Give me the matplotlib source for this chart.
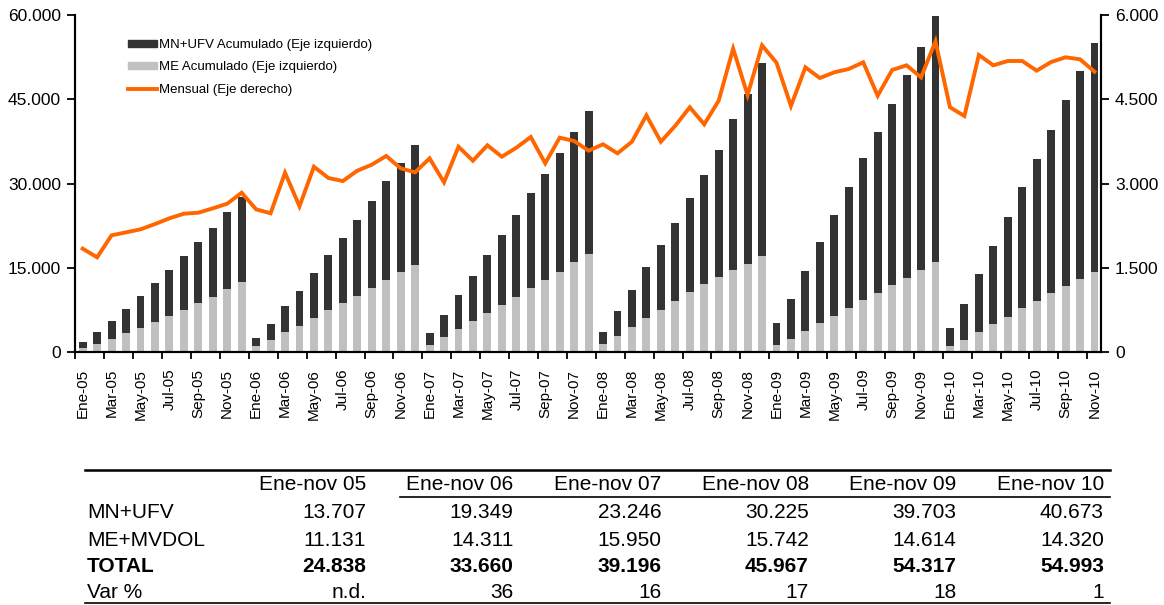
import matplotlib
matplotlib.use("Agg")
import matplotlib.pyplot as plt
from matplotlib.lines import Line2D
from matplotlib.patches import Patch
import numpy as np

plt.rcParams['font.family'] = ['Liberation Sans', 'DejaVu Sans']

meses = ["Ene", "Feb", "Mar", "Abr", "May", "Jun", "Jul", "Ago", "Sep", "Oct", "Nov", "Dic"]
anios = ["05", "06", "07", "08", "09", "10"]

# acumulado anual MN+UFV (parte oscura), en millones
mn_ufv_acum = [
    1135, 2020, 3210, 4390, 5700, 6890, 8260, 9620, 10810, 12290, 13707, 15250,
    1310, 2860, 4640, 6120, 8020, 9860, 11520, 13540, 15490, 17520, 19349, 21260,
    2140, 3920, 6060, 8020, 10330, 12470, 14540, 16860, 18760, 21140, 23246, 25460,
    2200, 4340, 6590, 9140, 11530, 14010, 16740, 19410, 22670, 26780, 30225, 34370,
    3810, 7080, 10680, 14440, 17930, 21600, 25290, 28670, 32290, 36150, 39703, 43890,
    3330, 6360, 10280, 14010, 17860, 21540, 25290, 29080, 33110, 37040, 40673,
]
# acumulado anual ME (parte gris)
me_acum = [
    700, 1480, 2370, 3320, 4270, 5340, 6340, 7470, 8720, 9840, 11131, 12400,
    1120, 2130, 3610, 4680, 6100, 7410, 8720, 9960, 11390, 12870, 14311, 15540,
    1300, 2610, 4090, 5510, 6940, 8300, 9790, 11390, 12870, 14290, 15950, 17390,
    1420, 2900, 4390, 6050, 7470, 9020, 10620, 12100, 13290, 14650, 15742, 17140,
    1300, 2370, 3790, 5090, 6460, 7830, 9310, 10550, 11920, 13220, 14614, 15960,
    1000, 2190, 3550, 4920, 6230, 7770, 9070, 10440, 11690, 12990, 14320,
]
# flujo mensual (eje derecho)
mensual = [
    1840, 1686, 2077, 2130, 2184, 2278, 2380, 2462, 2480, 2557, 2640, 2836,
    2540, 2470, 3192, 2594, 3299, 3098, 3044, 3228, 3335, 3490, 3270, 3199,
    3448, 3021, 3655, 3406, 3680, 3477, 3637, 3828, 3360, 3816, 3757, 3584,
    3698, 3537, 3744, 4214, 3744, 4029, 4357, 4054, 4474, 5400, 4576, 5460,
    5151, 4380, 5069, 4878, 4980, 5039, 5158, 4563, 5021, 5104, 4890, 5531,
    4357, 4202, 5288, 5104, 5181, 5181, 5009, 5163, 5247, 5211, 4991,
]

# tabla resumen
tabla_cols = ["Ene-nov 05", "Ene-nov 06", "Ene-nov 07", "Ene-nov 08", "Ene-nov 09", "Ene-nov 10"]
tabla_filas = ["MN+UFV", "ME+MVDOL", "TOTAL", "Var %"]
tabla_mn = ["13.707", "19.349", "23.246", "30.225", "39.703", "40.673"]
tabla_me = ["11.131", "14.311", "15.950", "15.742", "14.614", "14.320"]
tabla_total = ["24.838", "33.660", "39.196", "45.967", "54.317", "54.993"]
tabla_var = ["n.d.", "36", "16", "17", "18", "1"]

etiquetas = [m + "-" + a for a in anios for m in meses][:len(mensual)]
x = np.arange(len(mensual))

W, H = 1164, 605
fig = plt.figure(figsize=(W / 100, H / 100), dpi=100)
ax = fig.add_axes([75 / W, 1 - 352 / H, 1026 / W, 337 / H])
ax2 = ax.twinx()

dark = "#333333"
light = "#C0C0C0"
orange = "#FF6600"

ax.bar(x, me_acum, width=0.55, color=light, zorder=2)
ax.bar(x, mn_ufv_acum, bottom=me_acum, width=0.55, color=dark, zorder=2)
ax2.plot(x, mensual, color=orange, lw=2.8, solid_joinstyle='miter', zorder=3)

ax.set_xlim(-0.53, 70.45)
ax.set_ylim(0, 60000)
ax2.set_ylim(0, 6000)
ax.set_yticks(np.arange(0, 60001, 15000))
ax2.set_yticks(np.arange(0, 6001, 1500))
fmt = lambda v: f"{int(v):,}".replace(",", ".")
ax.set_yticklabels([fmt(v) for v in ax.get_yticks()])
ax2.set_yticklabels([fmt(v) for v in ax2.get_yticks()])

ax.set_xticks(x[::2])
ax.set_xticklabels(etiquetas[::2], rotation=90, fontsize=11)
ax.set_xticks(np.arange(-0.5, 71, 2), minor=True)
ax.tick_params(axis='x', which='major', length=0, pad=12)
ax.tick_params(axis='x', which='minor', length=5, width=1.3, direction='out')
ax.tick_params(axis='y', length=6, width=1.3, labelsize=12.5, pad=4)
ax2.tick_params(axis='y', length=6, width=1.3, labelsize=12.5, pad=4)

for a in (ax, ax2):
    a.spines['top'].set_visible(False)
    for s in ('left', 'right', 'bottom'):
        a.spines[s].set_linewidth(1.5)

handles = [Patch(color=dark), Patch(color=light), Line2D([], [], color=orange, lw=2.8)]
labels = ["MN+UFV Acumulado (Eje izquierdo)", "ME Acumulado (Eje izquierdo)", "Mensual (Eje derecho)"]
ax2.legend(handles, labels, loc='upper left', bbox_to_anchor=(0.052, 0.929),
           frameon=False, fontsize=9.5, handlelength=2.2, handleheight=0.45,
           handletextpad=0.1, labelspacing=0.8, borderpad=0, borderaxespad=0)

# tabla bajo el grafico
def fx(px):
    return px / W

def fy(py):
    return 1 - py / H

col_right = [366 + 147.6 * i for i in range(len(tabla_cols))]
fila_y = [513, 540, 566, 592]
fs = 15
for xc, t in zip(col_right, tabla_cols):
    fig.text(fx(xc), fy(485), t, ha='right', va='center', fontsize=fs)
for i, (nombre, vals) in enumerate(zip(tabla_filas, [tabla_mn, tabla_me, tabla_total, tabla_var])):
    peso = 'bold' if nombre == "TOTAL" else 'normal'
    fig.text(fx(87), fy(fila_y[i]), nombre, ha='left', va='center', fontsize=fs, weight=peso)
    for xc, v in zip(col_right, vals):
        fig.text(fx(xc), fy(fila_y[i]), v, ha='right', va='center', fontsize=fs, weight=peso)

fig.add_artist(Line2D([fx(85), fx(1110)], [fy(470), fy(470)], color='black', lw=1.8))
fig.add_artist(Line2D([fx(400), fx(1110)], [fy(497), fy(497)], color='black', lw=1.2))
fig.add_artist(Line2D([fx(85), fx(1110)], [fy(603), fy(603)], color='black', lw=1.2))

fig.savefig("out.png", dpi=100)
